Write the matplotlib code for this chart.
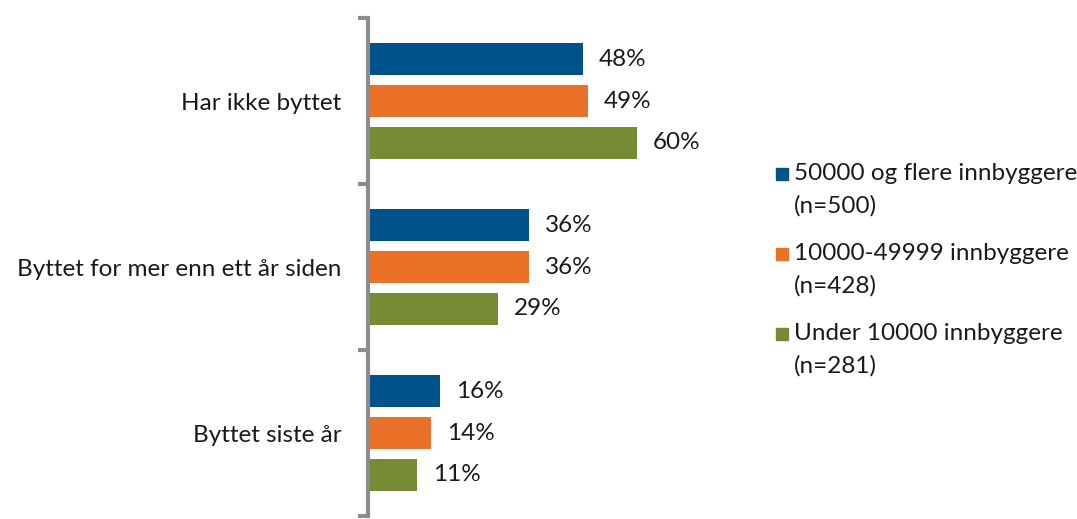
import numpy as np
import matplotlib.pyplot as plt
from matplotlib.patches import Rectangle

categories = ['Har ikke byttet', 'Byttet for mer enn ett år siden', 'Byttet siste år']
series = ['50000 og flere innbyggere\n(n=500)',
          '10000-49999 innbyggere\n(n=428)',
          'Under 10000 innbyggere\n(n=281)']
values = [
    [48, 36, 16],
    [49, 36, 14],
    [60, 29, 11],
]
colors = ['#00538a', '#ec7128', '#778b35']

plt.rcParams['font.family'] = ['Lato', 'DejaVu Sans']
W, H = 1077, 519
FS = 17.5

fig = plt.figure(figsize=(W / 100, H / 100), dpi=100)
# axes placed in pixel terms: left 368, top 18, bottom 516
ax = fig.add_axes([368 / W, 3 / H, 313.6 / W, 498 / H])

y = np.arange(len(categories))
offsets = [-0.253, 0, 0.253]
h = 0.193
for i, (vals, c) in enumerate(zip(values, colors)):
    bars = ax.barh(y + offsets[i], vals, height=h, color=c, label=series[i])
    for b, v in zip(bars, vals):
        ax.text(v + 3.6, b.get_y() + b.get_height() / 2, f'{v}%',
                va='center', ha='left', fontsize=FS, color='#1a1a1a')

ax.set_xlim(0, 70)
ax.set_ylim(2.5, -0.5)
ax.set_yticks(y)
ax.set_yticklabels(categories, fontsize=FS, color='#1a1a1a')
ax.set_yticks([-0.5, 0.5, 1.5, 2.5], minor=True)
ax.tick_params(axis='y', which='major', length=0, pad=19)
ax.tick_params(axis='y', which='minor', length=7, width=3, color='#8c8c8c')
ax.set_xticks([])
for s in ['top', 'right', 'bottom']:
    ax.spines[s].set_visible(False)
ax.spines['left'].set_color('#8c8c8c')
ax.spines['left'].set_linewidth(3)

# legend drawn by hand so the square sits beside the first line of each entry
for i, (lab, c) in enumerate(zip(series, colors)):
    yc = 174 + 80 * i
    fig.patches.append(Rectangle((776 / W, 1 - (yc + 6) / H), 12 / W, 12 / H,
                                 transform=fig.transFigure, color=c))
    first, second = lab.split('\n')
    fig.text(794 / W, 1 - yc / H, first, fontsize=FS, va='center', ha='left', color='#1a1a1a')
    fig.text(794 / W, 1 - (yc + 32) / H, second, fontsize=FS, va='center', ha='left', color='#1a1a1a')

fig.savefig('out.png', dpi=100)
